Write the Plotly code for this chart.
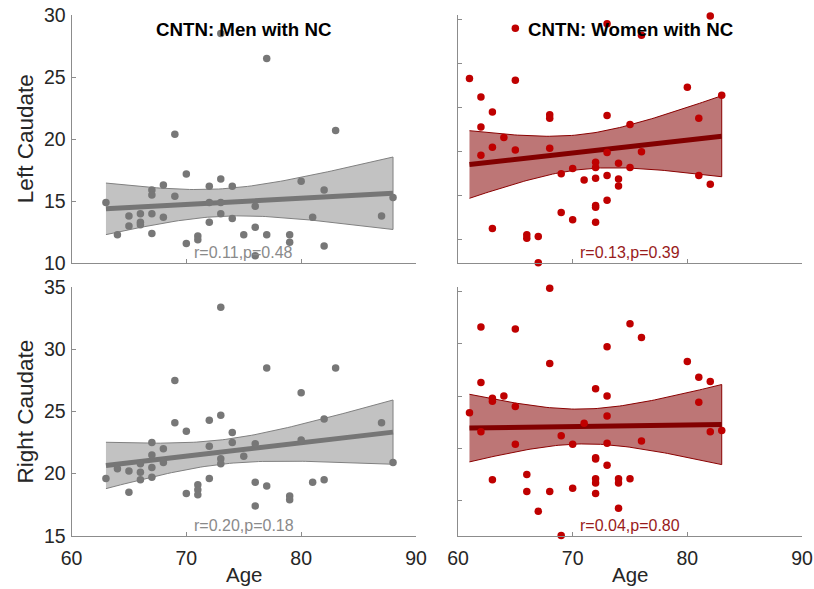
import numpy as np
import plotly.graph_objects as go

# ---------------- data ----------------
men_age_l = [63, 64, 65, 65, 66, 66, 66, 67, 67, 67, 67, 68, 68, 69, 69, 70, 70, 71, 71, 72, 72, 72,
             73, 73, 73, 73, 74, 74, 75, 76, 76, 76, 77, 77, 79, 79, 80, 81, 82, 82, 83, 87, 88]
men_left = [14.9, 12.3, 13.8, 13.0, 14.0, 13.3, 13.1, 15.9, 15.5, 14.0, 12.4, 16.3, 13.7, 20.4, 15.4,
            17.2, 11.6, 12.2, 11.9, 16.2, 14.9, 13.3, 16.8, 14.9, 14.0, 28.5, 16.2, 13.6, 12.3, 14.6,
            12.9, 10.6, 26.5, 12.3, 12.3, 11.7, 16.6, 13.7, 15.9, 11.4, 20.7, 13.8, 15.3]

men_age_r = [63, 64, 65, 65, 66, 66, 66, 67, 67, 67, 67, 68, 68, 69, 69, 70, 70, 71, 71, 71, 72, 72, 72,
             73, 73, 73, 73, 74, 74, 75, 76, 76, 76, 77, 77, 79, 79, 80, 80, 81, 82, 82, 83, 87, 88]
men_right = [19.6, 20.4, 20.2, 18.5, 20.8, 20.1, 19.5, 22.5, 21.5, 20.5, 19.7, 22.0, 20.9, 27.5, 24.1,
             23.4, 18.4, 19.1, 18.7, 18.3, 24.3, 22.2, 19.6, 33.4, 24.7, 21.2, 20.8, 23.3, 22.5, 21.4,
             22.4, 19.3, 17.4, 28.5, 19.0, 18.2, 17.9, 26.5, 22.7, 19.3, 24.4, 19.5, 28.5, 24.1, 20.9]

wom_age_l = [61, 62, 62, 62, 63, 63, 63, 64, 65, 65, 65, 66, 66, 67, 67, 68, 68, 68, 69, 69, 70, 70, 71,
             72, 72, 72, 72, 72, 72, 73, 73, 73, 73, 73, 74, 74, 74, 75, 75, 76, 76, 80, 81, 81, 82, 82, 83]
wom_left = [28.3, 26.2, 22.8, 19.6, 24.5, 20.5, 11.3, 21.6, 34.0, 28.1, 20.2, 10.6, 10.2, 10.4, 7.4,
            24.2, 23.8, 20.4, 17.5, 13.1, 18.1, 12.3, 16.8, 18.8, 18.2, 17.0, 13.9, 13.7, 12.0, 34.5,
            24.1, 19.9, 17.3, 14.5, 18.7, 16.9, 16.1, 23.1, 18.2, 33.2, 20.0, 27.3, 23.8, 17.3, 35.4,
            16.3, 26.4]

wom_age_r = [61, 62, 62, 62, 63, 63, 63, 64, 65, 65, 65, 66, 66, 67, 68, 68, 68, 69, 69, 70, 70, 71,
             72, 72, 72, 72, 72, 72, 73, 73, 73, 73, 73, 74, 74, 74, 75, 75, 76, 76, 80, 81, 81, 82, 82, 83]
wom_right = [23.4, 31.6, 26.3, 21.6, 24.8, 24.5, 17.0, 25.0, 31.4, 24.0, 20.4, 17.5, 15.9, 14.0, 35.3,
             28.1, 15.9, 21.2, 11.7, 20.4, 16.2, 22.4, 25.7, 19.1, 19.0, 17.1, 16.7, 15.7, 29.7, 25.0,
             23.1, 20.5, 18.4, 17.1, 16.7, 14.3, 31.9, 17.1, 30.6, 20.7, 28.3, 26.8, 24.4, 26.4, 21.6,
             21.7]

panel_titles = ["CNTN: Men with NC", "CNTN: Women with NC"]
stats_text = ["r=0.11,p=0.48", "r=0.13,p=0.39", "r=0.20,p=0.18", "r=0.04,p=0.80"]
y_titles = ["Left Caudate", "Right Caudate"]
x_title = "Age"
x_ticks = [60, 70, 80, 90]
y_ticks_tl = [10, 15, 20, 25, 30]
y_ticks_bl = [15, 20, 25, 30, 35]
y_ticks_tr = [10, 15, 20, 25, 30, 35]
y_ticks_br = [15, 20, 25, 30, 35]

# ---------------- styling ----------------
FONT = "Liberation Sans, Arial, Helvetica, sans-serif"
TXT = "#262626"
AX = "#8c8c8c"
GRAY_PT = "#777777"
GRAY_LINE = "#767676"
GRAY_FILL = "#c2c2c2"
GRAY_EDGE = "#808080"
RED_PT = "#bf0000"
RED_LINE = "#820000"
RED_FILL = "#bd7676"
RED_EDGE = "#8a0000"

W, H = 814, 589


def t975(df):
    z = 1.959964
    return z + (z**3 + z) / (4 * df) + (5 * z**5 + 16 * z**3 + 3 * z) / (96 * df**2)


def fit_band(x, y, n=80):
    x = np.asarray(x, float)
    y = np.asarray(y, float)
    b, a = np.polyfit(x, y, 1)
    xs = np.linspace(x.min(), x.max(), n)
    yhat = a + b * xs
    resid = y - (a + b * x)
    dof = len(x) - 2
    s = np.sqrt(np.sum(resid**2) / dof)
    sxx = np.sum((x - x.mean())**2)
    se = s * np.sqrt(1.0 / len(x) + (xs - x.mean())**2 / sxx)
    t = t975(dof)
    return xs, yhat, yhat - t * se, yhat + t * se


def px_x(p):
    return p / W


def px_y(p):
    return 1 - p / H


col_dom = [[px_x(71.5), px_x(416)], [px_x(458), px_x(802)]]
row_dom = [[px_y(263.3), px_y(15)], [px_y(535.7), px_y(287.3)]]

panels = [
    ("x", "y", men_age_l, men_left, GRAY_PT, GRAY_LINE, GRAY_FILL, GRAY_EDGE, 0, 0),
    ("x2", "y2", wom_age_l, wom_left, RED_PT, RED_LINE, RED_FILL, RED_EDGE, 1, 0),
    ("x3", "y3", men_age_r, men_right, GRAY_PT, GRAY_LINE, GRAY_FILL, GRAY_EDGE, 0, 1),
    ("x4", "y4", wom_age_r, wom_right, RED_PT, RED_LINE, RED_FILL, RED_EDGE, 1, 1),
]

fig = go.Figure()
for xa, ya, ages, vals, pc, lc, fc, ec, c, r in panels:
    xs, yhat, lo, hi = fit_band(ages, vals)
    fig.add_trace(go.Scatter(
        x=np.concatenate([xs, xs[::-1]]), y=np.concatenate([hi, lo[::-1]]),
        fill="toself", fillcolor=fc, mode="lines", line=dict(color=ec, width=1),
        xaxis=xa, yaxis=ya, hoverinfo="skip", showlegend=False))
    fig.add_trace(go.Scatter(
        x=xs, y=yhat, mode="lines", line=dict(color=lc, width=5),
        xaxis=xa, yaxis=ya, showlegend=False))
    fig.add_trace(go.Scatter(
        x=ages, y=vals, mode="markers", marker=dict(color=pc, size=7.5, line=dict(width=0)),
        xaxis=xa, yaxis=ya, showlegend=False, cliponaxis=False))

axis_common = dict(showline=True, linecolor=AX, linewidth=1, ticks="inside", ticklen=4,
                   tickcolor=AX, tickwidth=1, showgrid=False, zeroline=False, mirror=False,
                   automargin=False,
                   tickfont=dict(family=FONT, size=19.5, color=TXT))

layout = dict(
    width=W, height=H, margin=dict(l=0, r=0, t=0, b=0, pad=0, autoexpand=False),
    paper_bgcolor="white", plot_bgcolor="white", showlegend=False,
    font=dict(family=FONT, color=TXT),
)

y_ranges = {"y": [10, 30], "y2": [7.35, 35.5], "y3": [15, 35], "y4": [11.67, 35.38]}
y_tickvals = {"y": y_ticks_tl, "y2": y_ticks_tr, "y3": y_ticks_bl, "y4": y_ticks_br}
for xa, ya, ages, vals, pc, lc, fc, ec, c, r in panels:
    xkey = "xaxis" + xa[1:]
    ykey = "yaxis" + ya[1:]
    layout[xkey] = dict(axis_common, domain=col_dom[c], range=[60, 90], tickvals=x_ticks,
                        anchor=ya, showticklabels=(r == 1), ticklabelstandoff=5)
    layout[ykey] = dict(axis_common, domain=row_dom[r], range=y_ranges[ya],
                        tickvals=y_tickvals[ya], anchor=xa, showticklabels=(c == 0),
                        ticklabelstandoff=1)

fig.update_layout(**layout)

ann = []
for c, t in enumerate(panel_titles):
    xa = ["x", "x2"][c]
    ya = ["y", "y2"][c]
    ann.append(dict(text="<b>" + t + "</b>", xref=xa + " domain", yref=ya + " domain",
                    x=0.5, y=0.9436, xanchor="center", yanchor="middle", showarrow=False,
                    font=dict(family=FONT, size=18.7, color="black")))
stat_colors = ["#8a8a8a", "#991b1b", "#8a8a8a", "#991b1b"]
for i, (xa, ya) in enumerate([("x", "y"), ("x2", "y2"), ("x3", "y3"), ("x4", "y4")]):
    ann.append(dict(text=stats_text[i], xref=xa + " domain", yref=ya + " domain",
                    x=0.5, y=0.043, xanchor="center", yanchor="middle", showarrow=False,
                    font=dict(family=FONT, size=16, color=stat_colors[i])))
for r, t in enumerate(y_titles):
    ann.append(dict(text=t, xref="paper", yref="paper", x=px_x(25), y=sum(row_dom[r]) / 2,
                    xanchor="center", yanchor="middle", textangle=-90, showarrow=False,
                    font=dict(family=FONT, size=22.5, color=TXT)))
for c in range(2):
    ann.append(dict(text=x_title, xref="paper", yref="paper", x=sum(col_dom[c]) / 2,
                    y=px_y(574), xanchor="center", yanchor="middle", showarrow=False,
                    font=dict(family=FONT, size=20.5, color=TXT)))
fig.update_layout(annotations=ann)

fig.write_html("out.html")
